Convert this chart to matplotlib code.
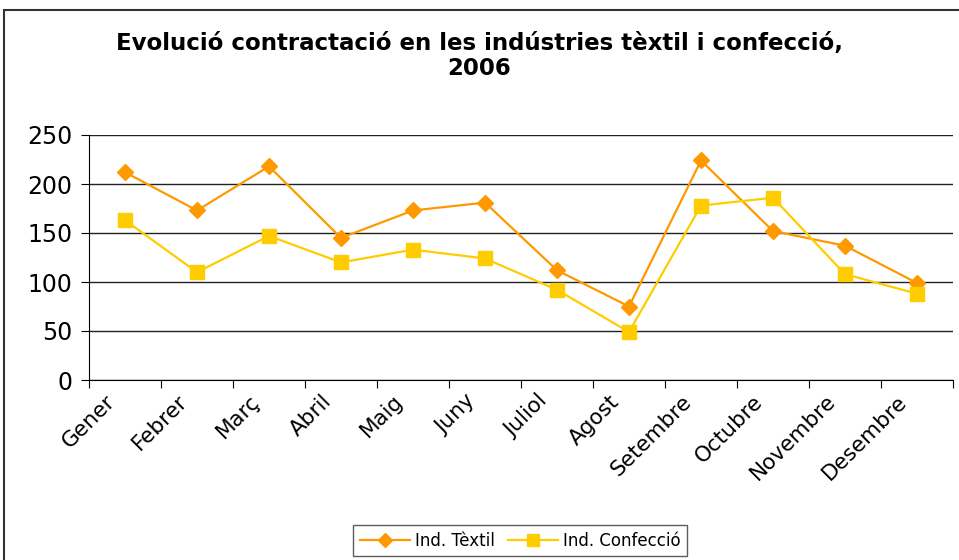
import matplotlib.pyplot as plt
from matplotlib.patches import Rectangle
from matplotlib.transforms import ScaledTranslation

mesos = ["Gener", "Febrer", "Març", "Abril", "Maig", "Juny", "Juliol", "Agost",
         "Setembre", "Octubre", "Novembre", "Desembre"]
textil = [212, 173, 218, 145, 173, 181, 112, 75, 224, 152, 137, 99]
confeccio = [163, 110, 147, 120, 133, 124, 92, 49, 178, 186, 108, 88]

W, H = 959, 560
fig = plt.figure(figsize=(W / 100, H / 100), dpi=100)

# outer frame (cut at right and bottom like the reference)
fig.patches.append(Rectangle((4 / W, 0 - 0.01), 1.0, 1 - 10 / H + 0.01,
                             transform=fig.transFigure, fill=False,
                             edgecolor="#333333", linewidth=1.5))

ax = fig.add_axes([89 / W, 1 - 380 / H, 864 / W, 245 / H])
x = [i + 0.5 for i in range(len(mesos))]
ax.plot(x, textil, color="#FF9900", lw=1.6, marker="D", markersize=8.5, label="Ind. Tèxtil")
ax.plot(x, confeccio, color="#FFCC00", lw=1.6, marker="s", markersize=10, label="Ind. Confecció")

ax.set_xlim(0, 12)
ax.set_ylim(0, 250)
ax.set_yticks(range(0, 251, 50))
ax.yaxis.grid(True, color="#222222", lw=1)
ax.set_axisbelow(True)
ax.tick_params(axis="y", labelsize=17, length=6, direction="out", pad=6)

ax.set_xticks(range(13))
ax.set_xticklabels([])
ax.tick_params(axis="x", which="major", length=6, direction="out")
ax.set_xticks(x, minor=True)
ax.set_xticklabels(mesos, minor=True, rotation=45, ha="right", rotation_mode="anchor",
                   fontsize=15.5)
ax.tick_params(axis="x", which="minor", length=0, pad=8)
off = ScaledTranslation(-20 / 100, 0, fig.dpi_scale_trans)
for lab in ax.get_xticklabels(minor=True):
    lab.set_transform(lab.get_transform() + off)

for s in ["top", "right"]:
    ax.spines[s].set_visible(False)

fig.text(0.5, 1 - 56 / H, "Evolució contractació en les indústries tèxtil i confecció,\n2006",
         ha="center", va="center", fontsize=16.5, fontweight="bold", linespacing=1.12)

fig.legend(loc="upper center", bbox_to_anchor=(520 / W, 1 - 525 / H), ncol=2,
           frameon=True, fancybox=False, edgecolor="#333333", fontsize=12,
           borderaxespad=0, handlelength=3, columnspacing=0.8, handletextpad=0.3,
           markerscale=0.8)

fig.savefig("out.png", dpi=100)
